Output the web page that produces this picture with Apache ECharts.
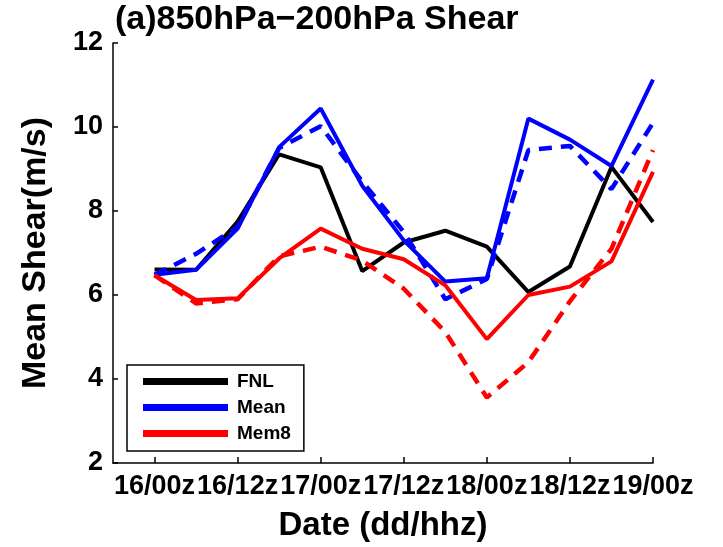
<!DOCTYPE html>
<html>
<head>
<meta charset="utf-8">
<script src="https://cdn.jsdelivr.net/npm/echarts@6/dist/echarts.min.js"></script>
<style>
  html, body { margin: 0; padding: 0; background: #fff; }
  #chart { width: 723px; height: 547px; }
</style>
</head>
<body>
<div id="chart"></div>
<script>
// hours since 16/00z, 6-hourly
const hours = [0, 6, 12, 18, 24, 30, 36, 42, 48, 54, 60, 66, 72];
const tickHours = [0, 12, 24, 36, 48, 60, 72];
const tickLabels = ['16/00z', '16/12z', '17/00z', '17/12z', '18/00z', '18/12z', '19/00z'];

const fnl = [6.61, 6.6, 7.75, 9.35, 9.04, 6.57, 7.25, 7.53, 7.15, 6.07, 6.68, 9.05, 7.74];
const mean = [6.48, 6.6, 7.58, 9.52, 10.44, 8.6, 7.3, 6.32, 6.4, 10.2, 9.7, 9.07, 11.13];
const meanDash = [6.48, 6.98, 7.62, 9.5, 10.02, 8.7, 7.5, 5.9, 6.38, 9.45, 9.55, 8.52, 10.1];
const mem8 = [6.47, 5.88, 5.92, 6.87, 7.58, 7.1, 6.85, 6.23, 4.95, 6.0, 6.2, 6.8, 8.93];
const mem8Dash = [6.47, 5.8, 5.9, 6.92, 7.15, 6.82, 6.15, 5.12, 3.56, 4.4, 5.85, 7.1, 9.45];

const font = 'Liberation Sans, Arial, sans-serif';
const pairs = (ys) => hours.map((h, i) => [h, ys[i]]);

function line(name, ys, color, dashed) {
  return {
    name: name,
    type: 'line',
    data: pairs(ys),
    symbol: 'none',
    lineStyle: {
      color: color,
      width: dashed ? 4.5 : 4,
      type: dashed ? [13, 9] : 'solid'
    },
    itemStyle: { color: color }
  };
}

const chart = echarts.init(document.getElementById('chart'));
chart.setOption({
  animation: false,
  title: {
    text: '(a)850hPa\u2212200hPa Shear',
    left: 115,
    top: 3,
    padding: 0,
    textStyle: { fontFamily: font, fontSize: 34, fontWeight: 'bold', color: '#000' }
  },
  grid: { left: 113, right: 70, top: 43, bottom: 81 },
  legend: {
    data: ['FNL', 'Mean', 'Mem8'],
    orient: 'vertical',
    left: 127,
    top: 365,
    padding: [5, 13, 6, 16],
    itemGap: 3,
    itemWidth: 85,
    itemHeight: 7,
    icon: 'rect',
    borderColor: '#000',
    borderWidth: 1.5,
    borderRadius: 0,
    textStyle: { fontFamily: font, fontSize: 19, fontWeight: 'bold', color: '#000', lineHeight: 23, padding: [0, 0, 0, 4] }
  },
  xAxis: {
    type: 'value',
    min: -6,
    max: 72,
    name: 'Date (dd/hhz)',
    nameLocation: 'middle',
    nameGap: 46,
    nameTextStyle: { fontFamily: font, fontSize: 33, fontWeight: 'bold', color: '#000' },
    axisLine: { onZero: false, lineStyle: { color: '#000', width: 1.5 } },
    axisTick: { inside: true, length: 6, customValues: tickHours, lineStyle: { color: '#000', width: 1.5 } },
    axisLabel: {
      customValues: tickHours,
      margin: 10,
      fontFamily: font, fontSize: 27, fontWeight: 'bold', color: '#000',
      formatter: (v) => tickLabels[tickHours.indexOf(v)]
    },
    splitLine: { show: false }
  },
  yAxis: {
    type: 'value',
    min: 2,
    max: 12,
    interval: 2,
    name: 'Mean Shear(m/s)',
    nameLocation: 'middle',
    nameGap: 60,
    nameTextStyle: { fontFamily: font, fontSize: 34, fontWeight: 'bold', color: '#000' },
    axisLine: { show: true, onZero: false, lineStyle: { color: '#000', width: 1.5 } },
    axisTick: { show: true, inside: true, length: 5, lineStyle: { color: '#000', width: 1.5 } },
    axisLabel: { margin: 10, fontFamily: font, fontSize: 27, fontWeight: 'bold', color: '#000' },
    splitLine: { show: false }
  },
  series: [
    line('FNL', fnl, '#000000', false),
    line('Mean', mean, '#0000ff', false),
    line('Mean (dashed)', meanDash, '#0000ff', true),
    line('Mem8', mem8, '#ff0000', false),
    line('Mem8 (dashed)', mem8Dash, '#ff0000', true)
  ]
});
</script>
</body>
</html>
